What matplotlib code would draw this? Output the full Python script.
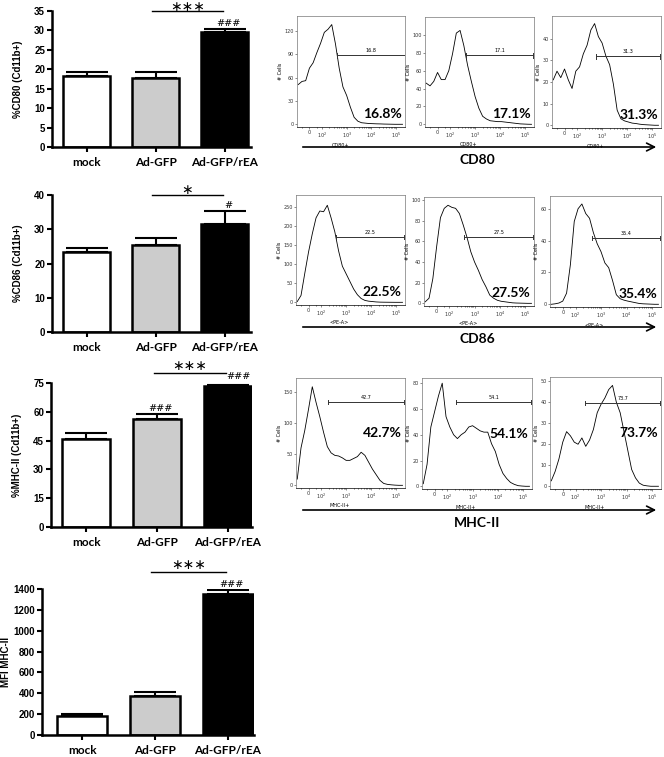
import matplotlib
matplotlib.use("Agg")
import matplotlib.pyplot as plt
from matplotlib.patches import FancyArrowPatch
import numpy as np

W, H = 664, 757

groups = ["mock", "Ad-GFP", "Ad-GFP/rEA"]
bar_colors = ["white", "#cccccc", "black"]

cd80_mean = [18.3, 17.8, 29.5]
cd80_err = [1.1, 1.6, 0.9]
cd86_mean = [23.4, 25.3, 31.5]
cd86_err = [1.1, 2.0, 3.8]
mhc_mean = [45.7, 56.2, 73.5]
mhc_err = [3.5, 2.8, 0.5]
mfi_mean = [185, 374, 1352]
mfi_err = [20, 41, 38]

# flow histograms, x in decade units (0 -> ~1.5, 10^2 -> 2, 10^3 -> 3 ...)
hist_x = [1.05, 1.20, 1.35, 1.50, 1.65, 1.80, 1.95, 2.10, 2.25, 2.40,
          2.55, 2.70, 2.85, 3.00, 3.15, 3.30, 3.45, 3.60, 3.75, 3.90,
          4.05, 4.20, 4.35, 4.50, 4.65, 4.80, 4.95, 5.10, 5.25]

cd80_mock = [51, 55, 56, 72, 79, 92, 104, 118, 122, 128, 103, 72, 48, 37, 22,
             9, 4, 2, 1.5, 1, 0.8, 0.6, 0.5, 0.3, 0.2, 0.1, 0, 0, 0]
cd80_gfp = [46, 43, 48, 58, 50, 50, 60, 79, 102, 105, 88, 66, 48, 31, 18,
            9, 6, 4, 3.5, 3, 3, 2.5, 2, 1.5, 1, 0.5, 0.3, 0.1, 0]
cd80_rea = [21, 25, 22, 26, 21, 17, 25, 27, 33, 37, 44, 47, 41, 38, 32,
            28, 19, 7, 3, 2, 1.5, 1, 0.8, 0.5, 0.3, 0.2, 0.1, 0, 0]

cd86_mock = [2, 18, 76, 132, 180, 222, 240, 238, 255, 222, 185, 135, 95, 75, 55,
             35, 20, 10, 5, 3, 2, 1, 0.5, 0.3, 0.2, 0.1, 0, 0, 0]
cd86_gfp = [1.5, 5, 24, 55, 83, 92, 95, 93, 92, 87, 76, 64, 50, 40, 32,
            23, 16, 8, 5, 3, 2, 1.5, 1, 0.5, 0.3, 0.2, 0.1, 0, 0]
cd86_rea = [0, 0.3, 0.8, 2, 7, 25, 52, 60, 63, 57, 54, 45, 38, 33, 26,
            23, 15, 6, 3.5, 2.6, 2, 1.5, 1, 0.5, 0.3, 0.2, 0.1, 0, 0]

mhc_mock = [10, 60, 88, 122, 158, 133, 110, 85, 62, 52, 48, 47, 44, 40, 40,
            43, 46, 53, 48, 37, 26, 17, 8, 3, 1.5, 0.8, 0.3, 0, 0]
mhc_gfp = [2, 17, 46, 58, 70, 80, 54, 46, 40, 37, 40, 42, 46, 47, 45,
           43, 42, 42, 33, 27, 17, 10, 6, 3, 1.5, 0.5, 0.2, 0, 0]
mhc_rea = [2.6, 7, 13, 21, 26, 24, 21, 20, 23, 19, 22, 27, 35, 39, 42,
           46, 48, 40, 35, 26, 17, 8, 4, 1.5, 0.5, 0.2, 0, 0, 0]

cd80_gate_from = [2.61, 2.63, 2.75]
cd80_gate_y = [88.5, 77, 31.8]
cd86_gate_from = [2.59, 2.59, 2.66]
cd86_gate_y = [172, 64, 41.6]
mhc_gate_from = [2.29, 2.36, 2.37]
mhc_gate_y = [134, 65.6, 39.6]

cd80_pct = ["16.8", "17.1", "31.3"]
cd86_pct = ["22.5", "27.5", "35.4"]
mhc_pct = ["42.7", "54.1", "73.7"]


def rect(l, t, r, b):
    return [l / W, 1 - b / H, (r - l) / W, (b - t) / H]


fig = plt.figure(figsize=(W / 100, H / 100), dpi=100)

tick_font = dict(family="Liberation Sans", weight="bold", size=7)
cat_font = dict(family="Lato", weight="bold", size=8.5)


def bar_panel(box, means, errs, xlim, ymax, yticks, ylabel, line_y, star_y,
              hashes, stars="∗∗∗", labx=-0.145):
    ax = fig.add_axes(rect(*box))
    x = np.arange(len(groups))
    ax.bar(x, means, width=0.68, color=bar_colors, edgecolor="black", linewidth=1.8, zorder=2)
    ax.errorbar(x, means, yerr=[np.zeros(len(errs)), errs], fmt="none", ecolor="black",
                elinewidth=1.5, capsize=15, capthick=1.5, zorder=1)
    ax.set_xlim(*xlim)
    ax.set_ylim(0, ymax)
    ax.set_yticks(yticks)
    ax.set_xticks(x)
    ax.set_xticklabels(groups, fontdict=cat_font)
    for lab in ax.get_yticklabels():
        lab.set_fontproperties(matplotlib.font_manager.FontProperties(**tick_font))
    ax.spines["top"].set_visible(False)
    ax.spines["right"].set_visible(False)
    ax.spines["left"].set_linewidth(1.8)
    ax.spines["bottom"].set_linewidth(1.8)
    ax.tick_params(axis="both", width=1.5, length=3.5, pad=1.5)
    ax.tick_params(axis="x", pad=4)
    ax.set_ylabel(ylabel, fontdict=tick_font, labelpad=2)
    ax.yaxis.set_label_coords(labx, 0.5)
    ax.plot([0.95, 1.97], [line_y, line_y], color="black", lw=1.0, clip_on=False)
    ax.text(1.46, star_y, stars, ha="center", va="center",
            fontsize=10, family="DejaVu Sans", clip_on=False)
    for i, h in enumerate(hashes):
        if h:
            ax.text(i + 0.05, means[i] + errs[i] + ymax * 0.005, h, ha="center", va="bottom",
                    fontsize=7, family="DejaVu Serif", clip_on=False)
    return ax


bar_panel((52, 11, 251, 147), cd80_mean, cd80_err, (-0.5, 2.38), 35, range(0, 36, 5),
          "%CD80 (Cd11b+)", 35.0, 36.1, ["", "", "###"])
bar_panel((52, 195, 251, 332), cd86_mean, cd86_err, (-0.5, 2.38), 40, range(0, 41, 10),
          "%CD86 (Cd11b+)", 40.0, 41.6, ["", "", "#"], stars="∗")
a3 = bar_panel((51, 383, 252, 527), mhc_mean, mhc_err, (-0.5, 2.34), 75, range(0, 76, 15),
               "%MHC-II (Cd11b+)", 80.4, 84.0, ["", "###", ""])
a3.text(2.15, 76.0, "###", ha="center", va="bottom", fontsize=7, family="DejaVu Serif", clip_on=False)
bar_panel((42, 589, 254, 735), mfi_mean, mfi_err, (-0.55, 2.36), 1400, range(0, 1401, 200),
          "MFI MHC-II", 1560, 1630, ["", "", "###"], labx=-0.145)


def hist_panel(box, counts, ytop, yticks, gate_from, gate_y, pct, xlabel, pct_y):
    ax = fig.add_axes(rect(*box))
    ax.plot(hist_x, counts, color="black", lw=0.6)
    ax.set_xlim(1.0, 5.35)
    ax.set_ylim(-0.025 * ytop, ytop)
    ax.set_yticks(yticks)
    ax.set_xticks([1.5, 2, 3, 4, 5])
    ax.set_xticklabels(["0", "$10^2$", "$10^3$", "$10^4$", "$10^5$"])
    minor = [1.2, 1.8] + [d + np.log10(k) for d in (2, 3, 4) for k in range(2, 10)]
    ax.set_xticks(minor, minor=True)
    ax.tick_params(axis="both", labelsize=3.5, length=1.5, width=0.4, pad=1, colors="#333333")
    ax.tick_params(axis="x", which="minor", length=1, width=0.4)
    for s in ax.spines.values():
        s.set_linewidth(0.5)
        s.set_color("#777777")
    ax.spines["bottom"].set_color("black")
    ax.set_ylabel("# Cells", fontsize=3.5, labelpad=1)
    ax.set_xlabel(xlabel, fontsize=3.5, labelpad=0.5)
    ax.xaxis.set_label_coords(0.4, -0.14)
    ax.plot([gate_from, 5.33], [gate_y, gate_y], color="#333333", lw=0.7)
    ax.plot([gate_from, gate_from], [gate_y - ytop * 0.02, gate_y + ytop * 0.02], color="#333333", lw=0.7)
    ax.plot([5.33, 5.33], [gate_y - ytop * 0.02, gate_y + ytop * 0.02], color="#333333", lw=0.7)
    ax.text((gate_from + 5.33) / 2, gate_y + ytop * 0.02, pct, ha="center", va="bottom", fontsize=3.5)
    ax.text(0.97, pct_y, pct + "%", transform=ax.transAxes, ha="right", va="center",
            family="Lato", weight="bold", fontsize=10)
    return ax


row1 = [(297, 16, 405, 127), (425, 17, 534, 127), (552, 16, 661, 128)]
row2 = [(296, 195, 405, 305), (424, 197, 534, 306), (550, 196, 661, 307)]
row3 = [(296, 378, 405, 488), (422, 378, 532, 489), (550, 377, 661, 489)]

hist_panel(row1[0], cd80_mock, 139, range(0, 121, 30), cd80_gate_from[0], cd80_gate_y[0], cd80_pct[0], "CD80+", 0.12)
hist_panel(row1[1], cd80_gfp, 120, range(0, 101, 20), cd80_gate_from[1], cd80_gate_y[1], cd80_pct[1], "CD80+", 0.12)
hist_panel(row1[2], cd80_rea, 50.5, range(0, 41, 10), cd80_gate_from[2], cd80_gate_y[2], cd80_pct[2], "CD80+", 0.12)

hist_panel(row2[0], cd86_mock, 282, range(0, 251, 50), cd86_gate_from[0], cd86_gate_y[0], cd86_pct[0], "<PE-A>", 0.12)
hist_panel(row2[1], cd86_gfp, 103, range(0, 101, 20), cd86_gate_from[1], cd86_gate_y[1], cd86_pct[1], "<PE-A>", 0.12)
hist_panel(row2[2], cd86_rea, 68, range(0, 61, 20), cd86_gate_from[2], cd86_gate_y[2], cd86_pct[2], "<PE-A>", 0.12)

hist_panel(row3[0], mhc_mock, 172, range(0, 151, 50), mhc_gate_from[0], mhc_gate_y[0], mhc_pct[0], "MHC-II+", 0.50)
hist_panel(row3[1], mhc_gfp, 84, range(0, 81, 20), mhc_gate_from[1], mhc_gate_y[1], mhc_pct[1], "MHC-II+", 0.50)
hist_panel(row3[2], mhc_rea, 52, range(0, 51, 10), mhc_gate_from[2], mhc_gate_y[2], mhc_pct[2], "MHC-II+", 0.50)

# arrows under each row + marker name
for arrow_y, name, name_y in [(147, "CD80", 160), (327, "CD86", 339), (510, "MHC-II", 523)]:
    arr = FancyArrowPatch((300 / W, 1 - arrow_y / H), (659 / W, 1 - arrow_y / H),
                          transform=fig.transFigure, arrowstyle="->", mutation_scale=14,
                          lw=1.2, color="black")
    fig.add_artist(arr)
    fig.text(477 / W, 1 - name_y / H, name, ha="center", va="center",
             family="Lato", weight="bold", fontsize=10)

fig.savefig("out.png", dpi=100)
